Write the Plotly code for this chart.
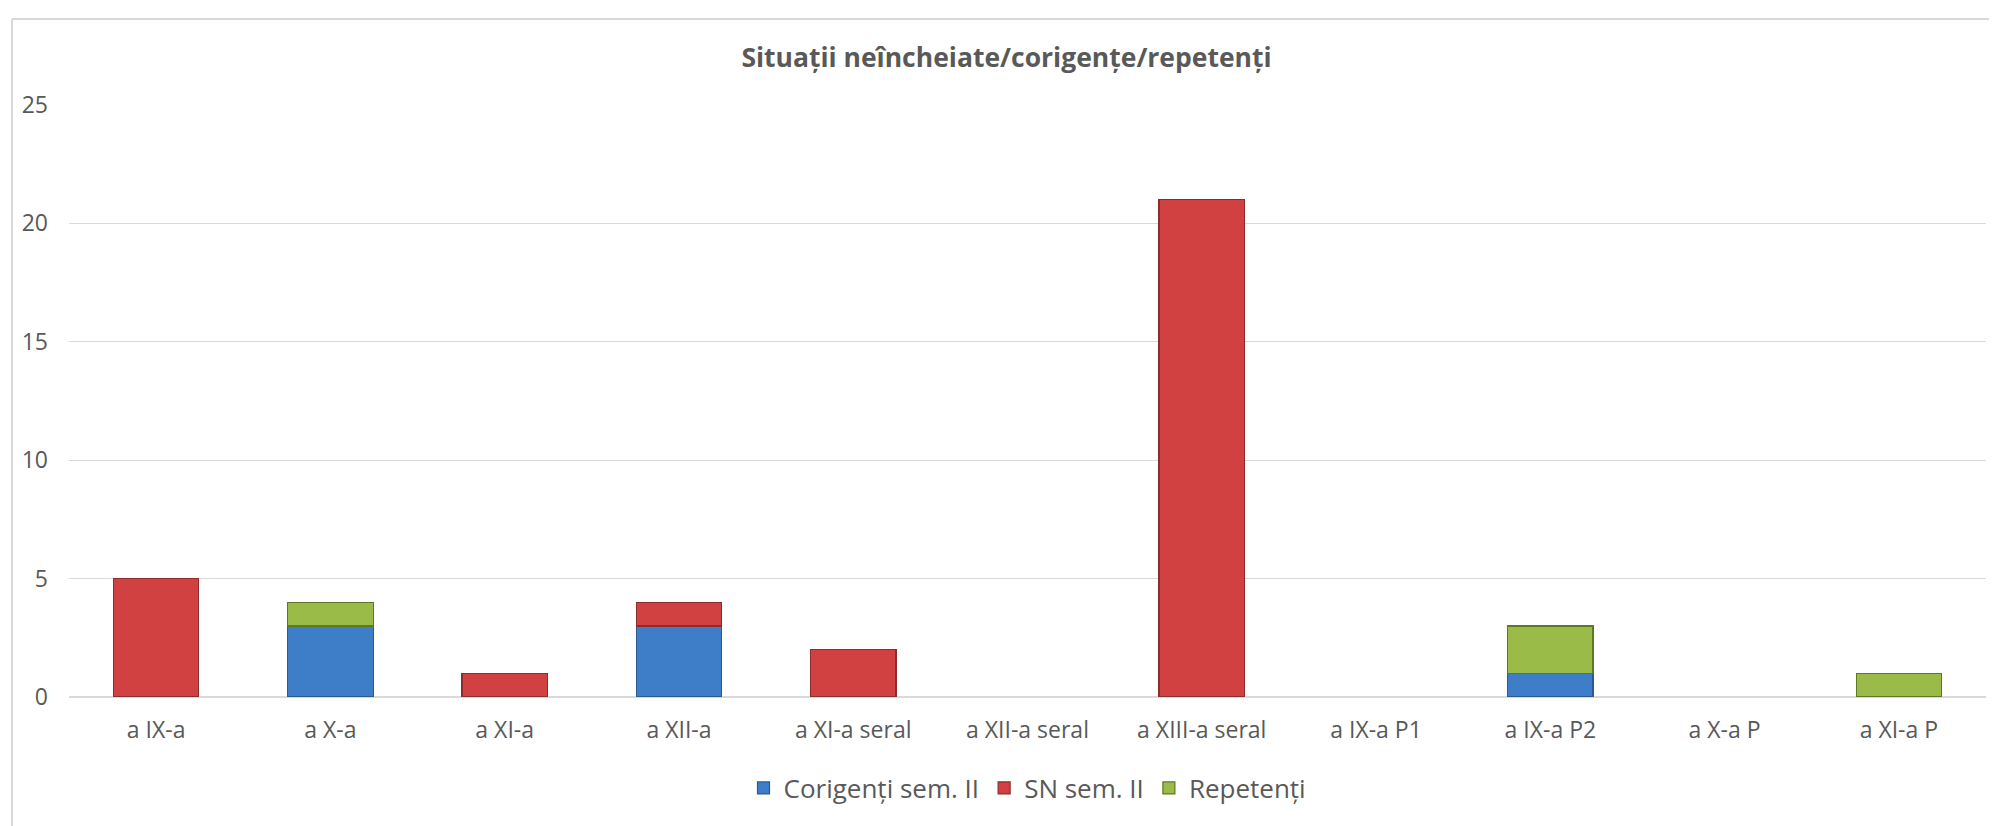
import plotly.graph_objects as go

categories = ["a IX-a", "a X-a", "a XI-a", "a XII-a", "a XI-a seral", "a XII-a seral",
              "a XIII-a seral", "a IX-a P1", "a IX-a P2", "a X-a P", "a XI-a P"]
corigenti = [0, 3, 0, 3, 0, 0, 0, 0, 1, 0, 0]
sn = [5, 0, 1, 1, 2, 0, 21, 0, 0, 0, 0]
repetenti = [0, 1, 0, 0, 0, 0, 0, 0, 2, 0, 1]
series_names = ["Corigenți sem. II", "SN sem. II", "Repetenți"]
y_ticks = [0, 5, 10, 15, 20, 25]

text_color = "#595959"
font_family = "Open Sans, Noto Sans, DejaVu Sans, sans-serif"

L, R, T, B = 61, 19, 97, 137
W, H = 1997, 826
plot_w, plot_h = W - L - R, H - T - B

fig = go.Figure()
styles = [("#3e7ec8", "#2a5a94"), ("#d14141", "#8e2b2b"), ("#9bbb49", "#5d7a22")]
for name, vals, (fc, lc) in zip(series_names, [corigenti, sn, repetenti], styles):
    fig.add_trace(go.Bar(
        x=categories, y=[v if v else None for v in vals], name=name,
        marker=dict(color=fc, line=dict(color=lc, width=1.2)),
    ))

fig.update_layout(
    barmode="stack",
    bargap=0.51,
    width=W, height=H,
    paper_bgcolor="white", plot_bgcolor="white",
    margin=dict(l=L, r=R, t=T, b=B),
    font=dict(family=font_family, color=text_color, size=23),
    title=dict(text="<b>Situații neîncheiate/corigențe/repetenți</b>",
               x=0.5, xanchor="center", y=1 - 50 / H, yanchor="middle",
               font=dict(size=26.5, color=text_color, family=font_family)),
    legend=dict(orientation="h", x=0.5, xanchor="center", y=-(780 - (H - B)) / plot_h,
                yanchor="middle",
                font=dict(size=26, color=text_color), traceorder="normal",
                itemwidth=30),
    showlegend=True,
)
fig.update_yaxes(range=[0, 25], tickvals=y_ticks, showgrid=True, gridcolor="#d9d9d9",
                 gridwidth=1, zeroline=True, zerolinecolor="#d9d9d9", zerolinewidth=1.5,
                 showline=False, ticks="", ticklabelstandoff=20,
                 tickfont=dict(size=23, color=text_color))
fig.update_xaxes(showline=False, ticks="", ticklabelstandoff=17,
                 tickfont=dict(size=23, color=text_color))

# chart-area border (top and left edges visible)
top_y = 1 + (T - 11) / plot_h
left_x = (4 - L) / plot_w
fig.add_shape(type="line", xref="paper", yref="paper",
              x0=left_x, x1=1.02, y0=top_y, y1=top_y,
              line=dict(color="#d9d9d9", width=2))
fig.add_shape(type="line", xref="paper", yref="paper",
              x0=left_x, x1=left_x, y0=top_y, y1=-0.3,
              line=dict(color="#d9d9d9", width=2))

fig.write_html("out.html")
